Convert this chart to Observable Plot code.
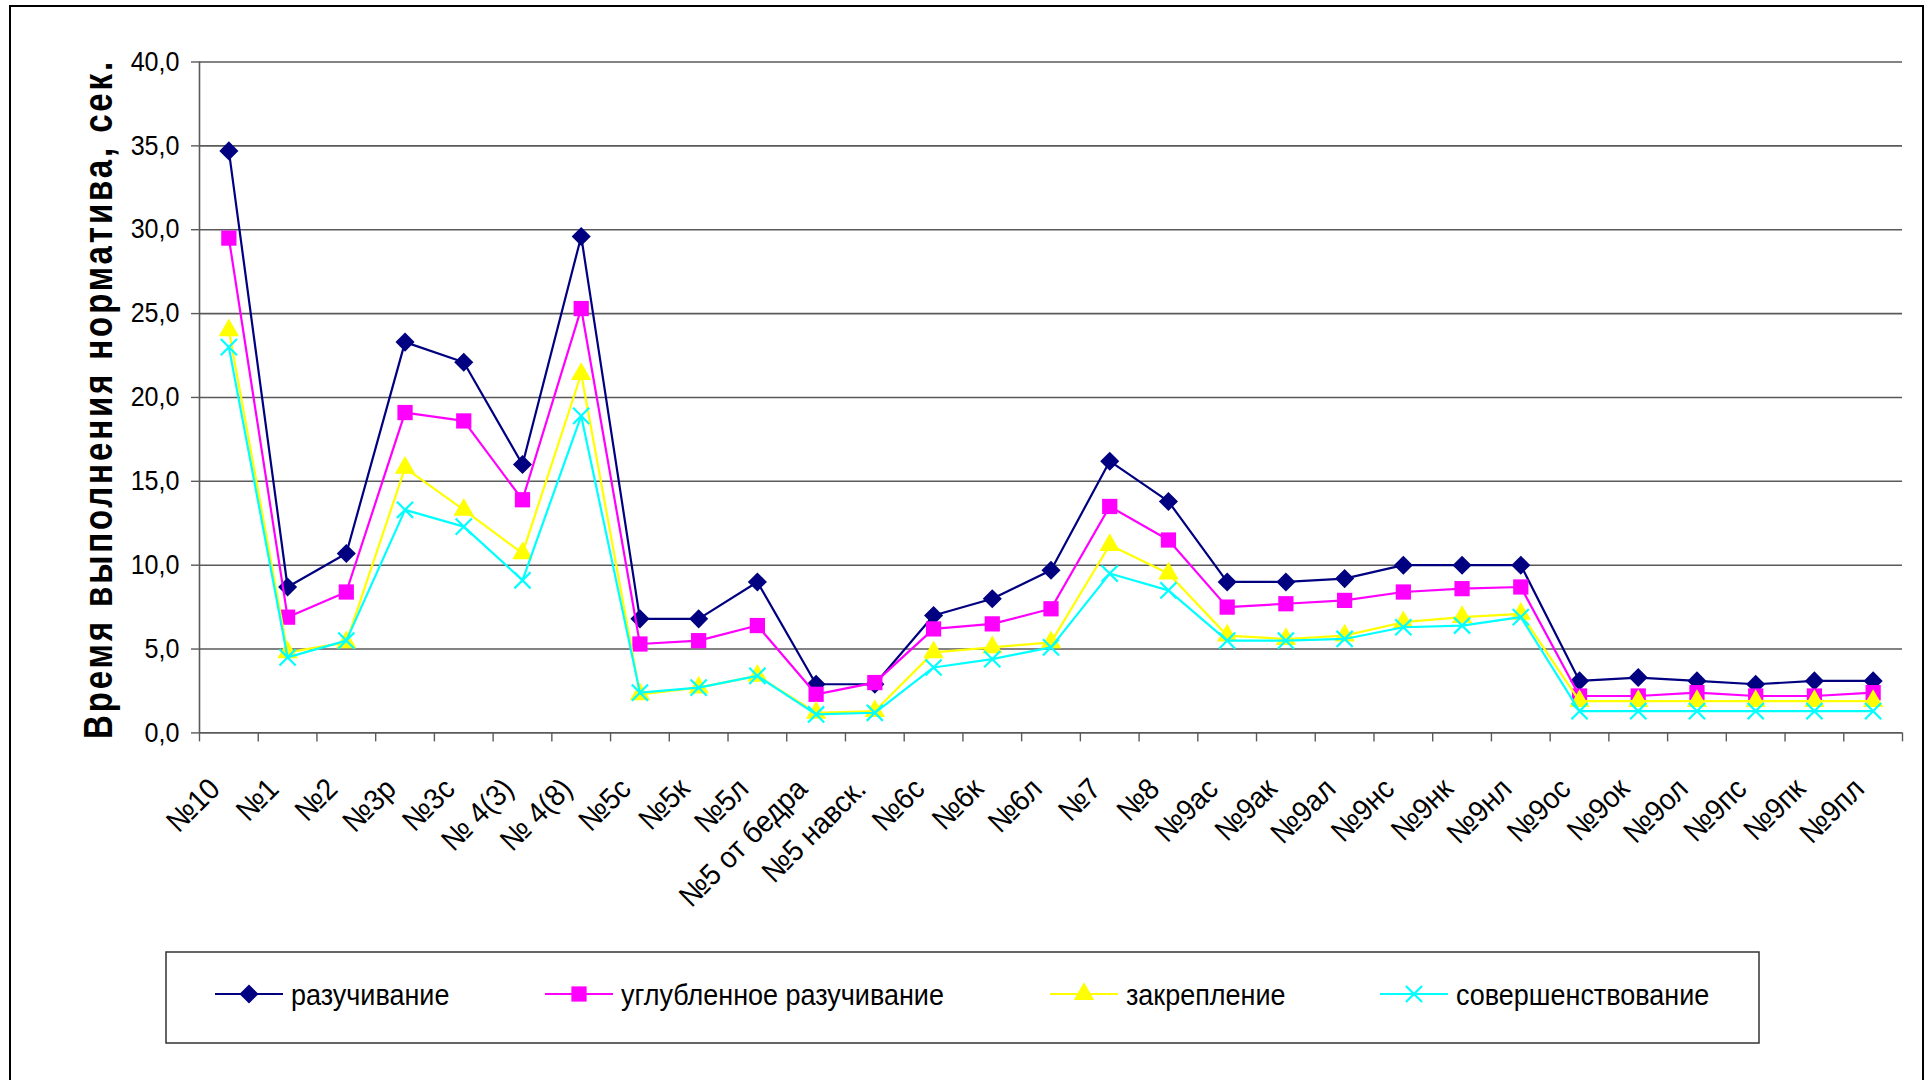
<!DOCTYPE html>
<html>
<head>
<meta charset="utf-8">
<script src="https://cdn.jsdelivr.net/npm/d3@7"></script>
<script src="https://cdn.jsdelivr.net/npm/@observablehq/plot@0.6"></script>
<style>
  body { margin: 0; background: #fff; }
  #wrap { position: relative; width: 1930px; height: 1080px; overflow: hidden; background: #fff;
          font-family: "Liberation Sans", Arial, sans-serif; }
  #frame { position: absolute; left: 9px; top: 5px; width: 1915px; height: 1100px;
           border: 2px solid #000; box-sizing: border-box; }
  #chart { position: absolute; left: 0; top: 0; }
  #overlay { position: absolute; left: 0; top: 0; }
</style>
</head>
<body>
<div id="wrap">
  <div id="frame"></div>
  <div id="chart"></div>
  <svg id="overlay" width="1930" height="1080"></svg>
</div>
<script>
// ---------- data ----------
const categories = ["№10", "№1", "№2", "№3р", "№3с", "№ 4(3)", "№ 4(8)", "№5с", "№5к", "№5л",
  "№5 от бедра", "№5 навск.", "№6с", "№6к", "№6л", "№7", "№8", "№9ас", "№9ак", "№9ал",
  "№9нс", "№9нк", "№9нл", "№9ос", "№9ок", "№9ол", "№9пс", "№9пк", "№9пл"];
const seriesNames = ["разучивание", "углубленное разучивание", "закрепление", "совершенствование"];
const razuchivanie = [34.7, 8.7, 10.7, 23.3, 22.1, 16.0, 29.6, 6.8, 6.8, 9.0, 2.9, 2.9, 7.0, 8.0, 9.7,
  16.2, 13.8, 9.0, 9.0, 9.2, 10.0, 10.0, 10.0, 3.1, 3.3, 3.1, 2.9, 3.1, 3.1];
const uglublennoe = [29.5, 6.9, 8.4, 19.1, 18.6, 13.9, 25.3, 5.3, 5.5, 6.4, 2.3, 3.0, 6.2, 6.5, 7.4,
  13.5, 11.5, 7.5, 7.7, 7.9, 8.4, 8.6, 8.7, 2.2, 2.2, 2.4, 2.2, 2.2, 2.4];
const zakreplenie = [24.0, 4.8, 5.4, 15.8, 13.3, 10.7, 21.4, 2.3, 2.7, 3.4, 1.2, 1.3, 4.8, 5.1, 5.4,
  11.2, 9.5, 5.8, 5.6, 5.8, 6.6, 6.9, 7.1, 1.9, 1.9, 1.9, 1.9, 1.9, 1.9];
const sovershenstvovanie = [23.0, 4.5, 5.5, 13.3, 12.3, 9.1, 18.9, 2.4, 2.7, 3.4, 1.1, 1.2, 3.9, 4.4, 5.1,
  9.5, 8.5, 5.5, 5.5, 5.6, 6.3, 6.4, 6.9, 1.3, 1.3, 1.3, 1.3, 1.3, 1.3];
const yTicks = [0, 5, 10, 15, 20, 25, 30, 35, 40];
const yTitle = "Время выполнения норматива, сек.";

// ---------- styles ----------
const colors = ["#000080", "#FF00FF", "#FFFF00", "#00FFFF"];
const symbols = ["diamond2", "square", "triangle", "times"];
const radii = [8.6, 8.6, 7.6, 7.4];
const FONT = "'Liberation Sans', Arial, sans-serif";

const seriesValues = [razuchivanie, uglublennoe, zakreplenie, sovershenstvovanie];
const tables = seriesValues.map((vals, s) => vals.map((v, i) => ({i, cat: categories[i], v, s: seriesNames[s]})));

const W = 1930, H = 1080;
const gridColor = "#5a5a5a";

const marks = [
  Plot.gridY(yTicks, {stroke: gridColor, strokeOpacity: 1, strokeWidth: 1.6}),
  Plot.ruleX([-0.5], {stroke: gridColor, strokeWidth: 1.6}),
  Plot.axisY(yTicks, {tickSize: 8, tickPadding: 12, stroke: gridColor, strokeWidth: 1.4,
    tickFormat: d => d.toFixed(1).replace(".", ","), fontSize: 27, fill: "#000", label: null}),
  Plot.axisX(d3.range(categories.length + 1).map(i => i - 0.5),
    {tickSize: 9, stroke: gridColor, strokeWidth: 1.4, tickFormat: () => "", label: null}),
  Plot.axisX(d3.range(categories.length),
    {tickSize: 0, tickPadding: 51, tickRotate: -45, fontSize: 30, fill: "#000", dx: -14,
     tickFormat: i => categories[i], label: null})
];
tables.forEach((t, s) => {
  marks.push(Plot.line(t, {x: "i", y: "v", stroke: colors[s], strokeWidth: 2.2}));
  const isStroke = symbols[s] === "times";
  marks.push(Plot.dot(t, {x: "i", y: "v", symbol: symbols[s], r: radii[s],
    fill: isStroke ? "none" : colors[s], stroke: isStroke ? colors[s] : "none",
    strokeWidth: isStroke ? 2.2 : 0}));
});

const plot = Plot.plot({
  width: W, height: H,
  marginLeft: 199, marginRight: 28, marginTop: 61.5, marginBottom: H - 732.4,
  x: {type: "linear", domain: [-0.5, categories.length - 0.5], axis: null},
  y: {domain: [0, 40], axis: null},
  style: {fontFamily: FONT, background: "transparent", color: "#000"},
  marks
});
document.getElementById("chart").appendChild(plot);

// horizontal condensing of tick label text to match the reference rendering
function squeeze(sel, sx) {
  sel.each(function() {
    const t = this.getAttribute("transform") || "";
    this.setAttribute("transform", t + ` scale(${sx},1)`);
  });
}
squeeze(d3.select(plot).selectAll('g[aria-label="y-axis tick label"] text'), 0.93);
squeeze(d3.select(plot).selectAll('g[aria-label="x-axis tick label"] text'), 0.93);

// ---------- y title & legend ----------
const ov = d3.select("#overlay");
ov.append("text")
  .attr("transform", "translate(98,399) rotate(-90) scale(0.825,1)")
  .attr("text-anchor", "middle").attr("dominant-baseline", "central")
  .attr("font-family", FONT).attr("font-weight", "bold").attr("font-size", 40)
  .style("letter-spacing", "3.5px")
  .text(yTitle);

const lg = ov.append("g");
lg.append("rect").attr("x", 166).attr("y", 952).attr("width", 1593).attr("height", 91)
  .attr("fill", "#fff").attr("stroke", "#333").attr("stroke-width", 1.5);
const legendX = [215, 545, 1050, 1380];
const legY = 994;
seriesNames.forEach((name, s) => {
  const g = lg.append("g").attr("transform", `translate(${legendX[s]},${legY})`);
  g.append("line").attr("x1", 0).attr("x2", 68).attr("y1", 0).attr("y2", 0)
    .attr("stroke", colors[s]).attr("stroke-width", 2.2);
  const symMap = {diamond2: d3.symbolDiamond2, square: d3.symbolSquare, triangle: d3.symbolTriangle, times: d3.symbolTimes};
  const isStroke = symbols[s] === "times";
  g.append("path").attr("transform", "translate(34,0)")
    .attr("d", d3.symbol(symMap[symbols[s]], Math.PI * radii[s] * radii[s])())
    .attr("fill", isStroke ? "none" : colors[s]).attr("stroke", isStroke ? colors[s] : "none")
    .attr("stroke-width", 2.2);
  g.append("text").attr("transform", "translate(76,0) scale(0.9,1)")
    .attr("dominant-baseline", "central")
    .attr("font-family", FONT).attr("font-size", 30).attr("fill", "#000")
    .text(name);
});
</script>
</body>
</html>
